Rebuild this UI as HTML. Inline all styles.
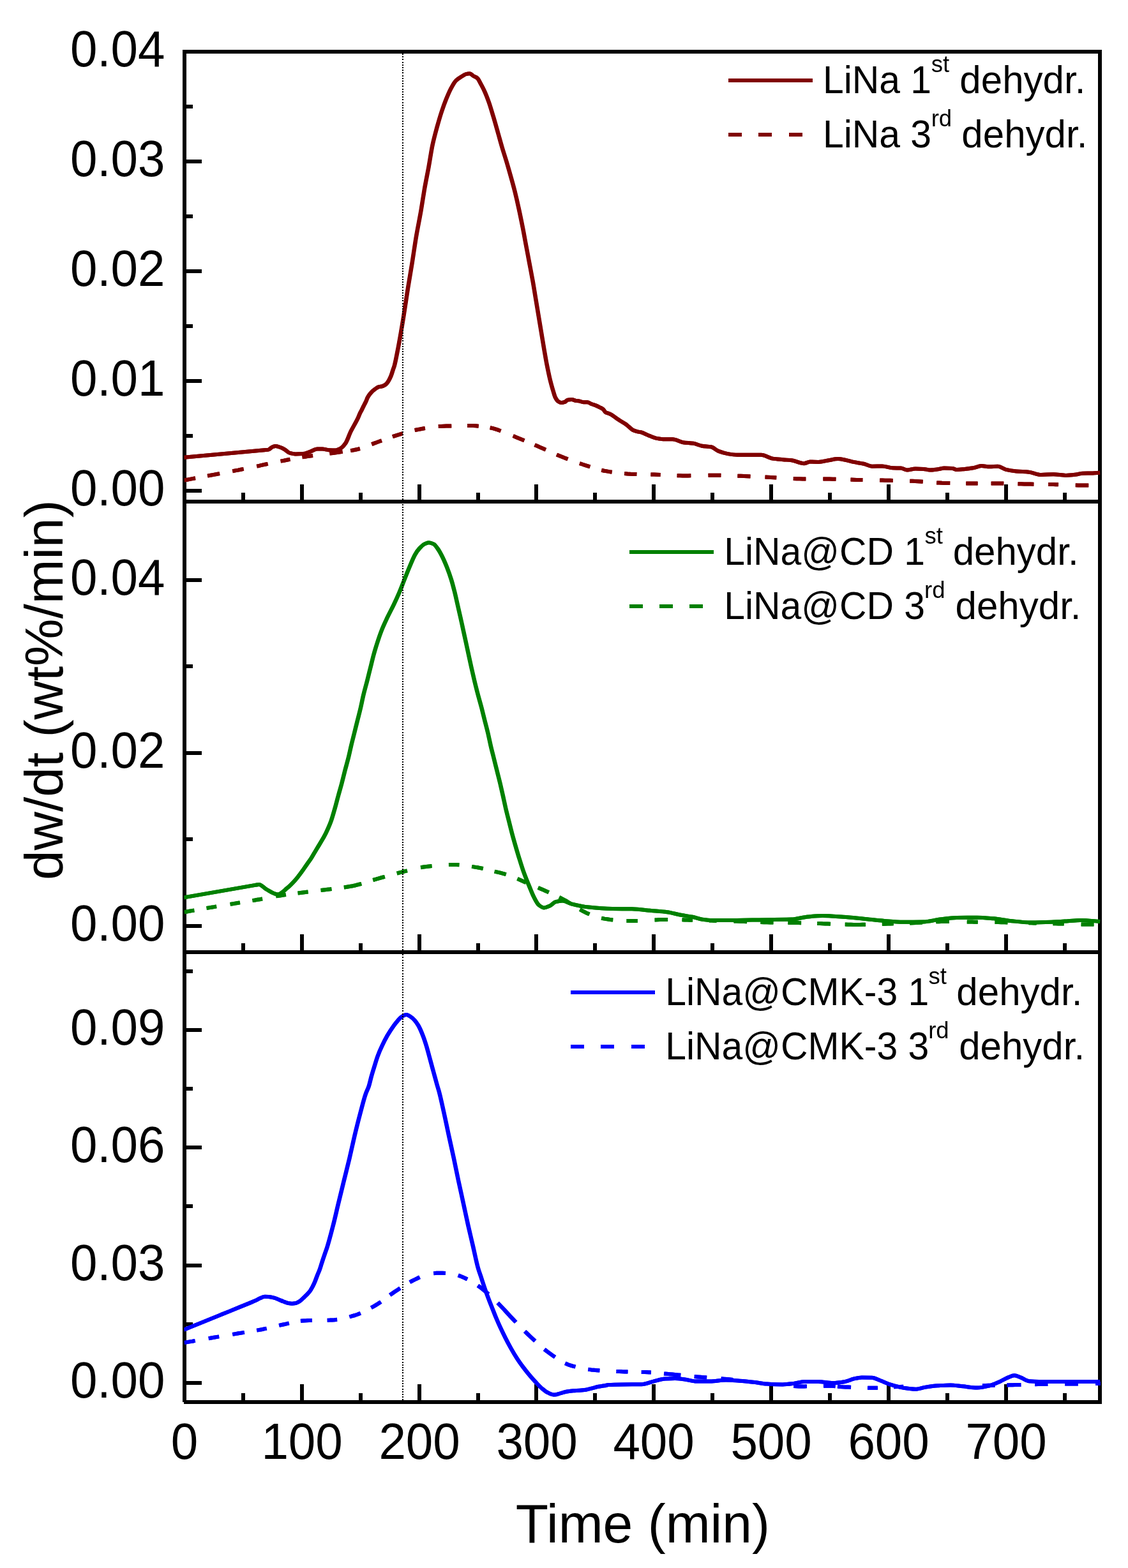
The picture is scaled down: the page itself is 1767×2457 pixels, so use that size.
<!DOCTYPE html>
<html lang="en">
<head>
<meta charset="utf-8">
<title>dw/dt vs Time</title>
<style>
html,body{margin:0;padding:0;background:#fff;}
body{width:1767px;height:2457px;overflow:hidden;}
svg{display:block;}
text{font-family:"Liberation Sans",Arial,Helvetica,sans-serif;fill:#000;}
.tick{font-size:77px;}
.title{font-size:84px;}
.leg{font-size:59px;}
.sup{font-size:36px;}
.crv{fill:none;stroke-width:6.0;stroke-linejoin:round;stroke-linecap:butt;}
</style>
</head>
<body>
<svg xmlns="http://www.w3.org/2000/svg" width="1767" height="2457" viewBox="0 0 1767 2457">
<rect x="0" y="0" width="1767" height="2457" fill="#fff"/>
<defs><clipPath id="plotclip"><rect x="288.5" y="81" width="1435.5" height="2119"/></clipPath></defs>
<!-- axes frame and ticks -->
<g fill="#000" shape-rendering="crispEdges">
<rect x="286" y="78" width="6" height="2119"/>
<rect x="1720" y="78" width="6" height="2122"/>
<rect x="286" y="78" width="1440" height="6"/>
<rect x="286" y="783" width="1440" height="6"/>
<rect x="286" y="1489" width="1440" height="6"/>
<rect x="288" y="2194" width="1438" height="6"/>
<rect x="378" y="772" width="6" height="11"/>
<rect x="470" y="759" width="6" height="24"/>
<rect x="562" y="772" width="6" height="11"/>
<rect x="654" y="759" width="6" height="24"/>
<rect x="746" y="772" width="6" height="11"/>
<rect x="837" y="759" width="6" height="24"/>
<rect x="929" y="772" width="6" height="11"/>
<rect x="1021" y="759" width="6" height="24"/>
<rect x="1113" y="772" width="6" height="11"/>
<rect x="1205" y="759" width="6" height="24"/>
<rect x="1297" y="772" width="6" height="11"/>
<rect x="1389" y="759" width="6" height="24"/>
<rect x="1481" y="772" width="6" height="11"/>
<rect x="1573" y="759" width="6" height="24"/>
<rect x="1665" y="772" width="6" height="11"/>
<rect x="378" y="1478" width="6" height="11"/>
<rect x="470" y="1464" width="6" height="25"/>
<rect x="562" y="1478" width="6" height="11"/>
<rect x="654" y="1464" width="6" height="25"/>
<rect x="746" y="1478" width="6" height="11"/>
<rect x="837" y="1464" width="6" height="25"/>
<rect x="929" y="1478" width="6" height="11"/>
<rect x="1021" y="1464" width="6" height="25"/>
<rect x="1113" y="1478" width="6" height="11"/>
<rect x="1205" y="1464" width="6" height="25"/>
<rect x="1297" y="1478" width="6" height="11"/>
<rect x="1389" y="1464" width="6" height="25"/>
<rect x="1481" y="1478" width="6" height="11"/>
<rect x="1573" y="1464" width="6" height="25"/>
<rect x="1665" y="1478" width="6" height="11"/>
<rect x="378" y="2183" width="6" height="11"/>
<rect x="470" y="2169" width="6" height="25"/>
<rect x="562" y="2183" width="6" height="11"/>
<rect x="654" y="2169" width="6" height="25"/>
<rect x="746" y="2183" width="6" height="11"/>
<rect x="837" y="2169" width="6" height="25"/>
<rect x="929" y="2183" width="6" height="11"/>
<rect x="1021" y="2169" width="6" height="25"/>
<rect x="1113" y="2183" width="6" height="11"/>
<rect x="1205" y="2169" width="6" height="25"/>
<rect x="1297" y="2183" width="6" height="11"/>
<rect x="1389" y="2169" width="6" height="25"/>
<rect x="1481" y="2183" width="6" height="11"/>
<rect x="1573" y="2169" width="6" height="25"/>
<rect x="1665" y="2183" width="6" height="11"/>
<rect x="292" y="766" width="24" height="6"/>
<rect x="292" y="680" width="10" height="6"/>
<rect x="292" y="594" width="24" height="6"/>
<rect x="292" y="508" width="10" height="6"/>
<rect x="292" y="422" width="24" height="6"/>
<rect x="292" y="336" width="10" height="6"/>
<rect x="292" y="250" width="24" height="6"/>
<rect x="292" y="164" width="10" height="6"/>
<rect x="292" y="1448" width="24" height="6"/>
<rect x="292" y="1312" width="10" height="6"/>
<rect x="292" y="1177" width="24" height="6"/>
<rect x="292" y="1041" width="10" height="6"/>
<rect x="292" y="906" width="24" height="6"/>
<rect x="292" y="2164" width="24" height="6"/>
<rect x="292" y="2072" width="10" height="6"/>
<rect x="292" y="1980" width="24" height="6"/>
<rect x="292" y="1887" width="10" height="6"/>
<rect x="292" y="1795" width="24" height="6"/>
<rect x="292" y="1703" width="10" height="6"/>
<rect x="292" y="1611" width="24" height="6"/>
<rect x="292" y="1519" width="10" height="6"/>
</g>
<!-- data curves -->
<g clip-path="url(#plotclip)">
<g stroke="#800000">
<path class="crv" transform="translate(-0.3,0)" d="M288.9,752.5L293.2,751.7L297.4,750.9L301.6,750.1L305.9,749.3M325.2,745.6L329.9,744.8L334.6,743.9L339.3,743.0L344.0,742.1M364.4,738.2L368.7,737.4L373.0,736.6L377.2,735.7L381.5,734.9M402.4,730.6L406.7,729.7L411.0,728.7L415.2,727.8L419.5,726.9M439.7,722.6L444.6,721.7L449.4,720.7L454.3,719.7M473.6,716.3L477.7,715.7L481.8,715.1L485.8,714.5L489.9,714.0M516.5,710.6L521.5,710.0L526.5,709.3L531.5,708.6L536.5,707.9M549.3,706.1L554.1,705.3L558.9,704.3L563.7,703.0M582.4,696.1L586.2,694.6L590.1,693.2L594.0,691.8L597.8,690.4M615.1,684.2L619.0,682.9L623.0,681.6L627.0,680.4L630.9,679.2M649.8,674.0L653.8,673.2L657.8,672.5L661.7,671.7L665.7,671.0M686.9,668.1L690.9,667.9L695.0,667.7L699.0,667.6L703.1,667.5L707.1,667.4M732.3,667.0L736.6,667.0L741.0,667.1L745.3,667.3L749.6,667.7M767.8,670.2L772.0,671.1L776.1,672.3L780.2,673.7L784.4,675.3M803.9,683.1L808.2,684.9L812.5,686.7L816.9,688.5L821.2,690.3M837.7,697.2L842.0,699.1L846.2,700.9L850.5,702.8L854.8,704.7M872.1,712.4L876.4,714.2L880.8,716.0L885.1,717.7L889.4,719.4M908.1,726.2L912.1,727.5L916.1,728.8L920.2,730.1L924.2,731.4M942.4,736.8L946.4,737.7L950.5,738.4L954.5,739.1L958.5,739.7M978.3,742.1L983.0,742.5L987.8,742.8L992.6,742.9L997.3,743.1M1019.5,743.5L1024.5,743.6L1029.5,743.8L1034.5,744.0M1060.7,745.2L1065.0,745.3L1069.3,745.4L1073.6,745.4L1077.9,745.4L1082.2,745.3M1109.6,744.8L1114.5,744.7L1119.4,744.7L1124.4,744.7L1129.3,744.8M1155.5,745.7L1160.5,745.8L1165.5,746.0L1170.4,746.2L1175.4,746.4M1198.6,747.6L1203.0,747.8L1207.4,748.0L1211.8,748.2L1216.2,748.5M1242.9,750.0L1247.8,750.2L1252.6,750.3L1257.4,750.4L1262.3,750.4M1289.5,750.6L1294.5,750.6L1299.5,750.6L1304.4,750.7L1309.4,750.8M1332.6,751.6L1337.3,751.7L1341.9,751.9L1346.6,752.0L1351.3,752.1M1378.3,752.5L1382.4,752.6L1386.4,752.7L1390.5,752.7L1394.5,752.8L1398.6,752.9M1425.4,753.7L1429.4,753.8L1433.5,754.0L1437.5,754.2L1441.6,754.4L1445.6,754.7M1467.3,756.4L1471.5,756.6L1475.6,756.8L1479.8,756.9L1483.9,757.0L1488.1,757.1M1513.4,757.5L1517.9,757.5L1522.4,757.5L1527.0,757.5L1531.5,757.5M1552.7,757.5L1557.6,757.5L1562.5,757.5L1567.3,757.5L1572.2,757.6M1594.6,758.2L1599.5,758.3L1604.5,758.4L1609.4,758.5L1614.4,758.6L1619.3,758.7M1642.4,759.0L1646.2,759.0L1650.1,759.1L1653.9,759.2L1657.8,759.3M1684.9,760.3L1688.9,760.4L1693.0,760.4L1697.0,760.4L1701.1,760.5L1705.1,760.5"/>
<path class="crv" transform="translate(-0.3,0)" d="M288.2,716.7C330.1,712.9 372.1,709.1 414.0,705.2C416.1,705.0 418.2,704.9 420.3,704.6C422.5,704.2 424.7,701.1 426.9,700.3C428.5,699.7 430.2,699.0 431.8,699.0C434.5,699.0 437.2,700.3 439.9,701.3C442.1,702.1 444.2,703.3 446.4,704.6C448.6,705.9 450.8,708.8 453.0,709.5C456.3,710.5 459.5,711.4 462.8,711.4C466.6,711.4 470.4,711.3 474.2,711.1C478.0,710.9 481.8,709.0 485.6,707.8C489.4,706.6 493.2,703.6 497.0,703.6C499.7,703.6 502.5,703.6 505.2,703.6C508.5,703.6 511.7,705.0 515.0,705.2C518.3,705.4 521.5,705.6 524.8,705.6C527.5,705.6 530.2,704.3 532.9,703.0C535.6,701.7 538.4,698.6 541.1,694.8C543.9,691.0 546.6,682.0 549.4,676.3C553.3,668.4 557.1,662.9 561.0,654.5C561.8,652.8 562.6,650.4 563.4,648.7C564.4,646.5 565.4,644.8 566.4,642.8C567.2,641.2 568.0,639.5 568.8,637.9C569.5,636.6 570.1,635.2 570.8,633.9C571.6,632.2 572.5,630.8 573.3,629.0C574.1,627.3 574.9,624.8 575.7,623.2C576.6,621.4 577.5,620.0 578.4,618.7C579.6,617.0 580.9,615.5 582.1,614.3C583.4,613.0 584.7,611.9 586.0,610.9C587.3,609.9 588.6,608.8 589.9,608.0C591.2,607.2 592.5,606.3 593.8,606.0C595.1,605.7 596.5,605.8 597.8,605.5C599.1,605.3 600.4,604.7 601.7,604.0C603.0,603.3 604.3,602.4 605.6,601.1C606.7,600.0 607.9,598.1 609.0,596.2C610.1,594.4 611.1,592.3 612.2,589.8C613.3,587.2 614.4,583.3 615.5,580.0C616.3,577.5 617.2,575.4 618.0,572.4C619.6,566.6 621.2,557.7 622.8,549.6C624.4,541.5 626.0,532.6 627.6,523.5C629.2,514.2 630.9,504.3 632.5,494.1C634.7,480.6 636.8,465.2 639.0,451.6C641.2,438.0 643.3,426.0 645.5,412.5C647.7,398.8 649.9,383.0 652.1,370.0C654.6,355.5 657.0,344.3 659.5,330.0C661.3,319.4 663.2,306.5 665.0,296.0C667.2,283.6 669.3,273.6 671.5,261.7C673.5,250.7 675.5,236.7 677.5,227.3C679.8,216.5 682.1,208.3 684.4,199.9C687.0,190.6 689.5,181.8 692.1,174.1C694.4,167.2 696.7,160.9 699.0,155.2C701.3,149.6 703.5,144.1 705.8,139.8C708.7,134.4 711.5,128.9 714.4,126.1C717.3,123.3 720.1,121.8 723.0,120.0C725.3,118.6 727.6,116.6 729.9,116.1C731.9,115.6 733.9,115.2 735.9,115.2C737.9,115.2 739.9,118.0 741.9,119.2C743.9,120.4 745.9,120.9 747.9,122.6C749.6,124.1 751.3,128.1 753.0,131.2C755.0,134.9 757.1,138.7 759.1,143.2C761.4,148.2 763.6,154.0 765.9,160.4C768.2,166.9 770.5,175.0 772.8,182.7C775.1,190.4 777.4,198.6 779.7,206.7C782.0,214.7 784.2,223.1 786.5,230.8C788.8,238.6 791.1,245.4 793.4,253.1C795.7,260.8 798.0,268.9 800.3,277.1C802.4,284.5 804.4,291.7 806.5,300.0C808.5,308.1 810.6,317.2 812.6,326.5C814.7,335.9 816.7,345.9 818.8,356.4C820.6,365.4 822.3,375.3 824.1,384.7C825.9,394.1 827.6,403.5 829.4,412.9C831.2,422.3 832.9,431.1 834.7,441.1C836.2,449.4 837.6,458.7 839.1,467.5C840.6,476.3 842.0,485.2 843.5,494.0C845.0,502.8 846.4,511.7 847.9,520.5C849.4,529.3 850.8,538.4 852.3,546.9C853.8,555.4 855.2,564.1 856.7,571.6C858.5,580.6 860.2,589.1 862.0,596.3C863.5,602.2 864.9,607.4 866.4,612.2C867.6,616.0 868.7,620.6 869.9,622.8C871.4,625.7 872.9,628.0 874.4,628.9C876.1,630.0 877.9,631.0 879.6,631.0C881.4,631.0 883.1,630.4 884.9,629.8C886.4,629.3 887.8,626.9 889.3,626.6C891.4,626.2 893.4,625.9 895.5,625.9C897.6,625.9 899.6,627.3 901.7,627.7C903.5,628.0 905.2,628.1 907.0,628.4C909.3,628.8 911.7,630.2 914.0,630.2C916.1,630.2 918.1,630.2 920.2,630.2C922.3,630.2 924.3,632.2 926.4,633.0C928.7,633.9 931.1,634.5 933.4,635.4C935.5,636.2 937.5,637.2 939.6,638.3C941.4,639.2 943.1,639.9 944.9,641.3C946.1,642.3 947.2,645.3 948.4,646.0C950.5,647.3 952.5,647.4 954.6,648.3C957.0,649.4 959.3,650.8 961.7,652.4C963.4,653.5 965.2,655.1 966.9,656.3C968.7,657.5 970.4,658.7 972.2,659.8C974.6,661.3 976.9,662.4 979.3,664.0C981.1,665.2 982.8,666.9 984.6,668.3C986.9,670.2 989.3,672.9 991.6,674.0C994.0,675.1 996.3,675.7 998.7,676.3C1000.7,676.8 1002.8,677.0 1004.8,677.5C1008.1,678.4 1011.3,680.4 1014.6,681.7C1018.9,683.4 1023.3,685.8 1027.6,686.6C1032.0,687.4 1036.3,688.3 1040.7,688.3C1045.0,688.3 1049.4,688.3 1053.7,688.3C1059.1,688.3 1064.6,692.4 1070.0,693.2C1075.5,694.0 1080.9,694.0 1086.4,694.8C1090.7,695.5 1095.1,698.0 1099.4,698.7C1104.3,699.5 1109.2,699.4 1114.1,700.3C1117.9,701.0 1121.7,705.4 1125.5,706.9C1130.4,708.8 1135.3,710.3 1140.2,711.1C1145.1,711.9 1150.0,712.7 1154.9,712.7C1160.3,712.7 1165.8,712.7 1171.2,712.7C1178.3,712.7 1185.3,712.7 1192.4,712.7C1198.4,712.7 1204.4,717.7 1210.4,718.6C1215.8,719.4 1221.3,719.7 1226.7,720.2C1231.1,720.6 1235.6,720.8 1240.0,721.3C1246.5,722.1 1252.9,726.2 1259.4,726.2C1262.6,726.2 1265.9,723.6 1269.1,723.6C1273.4,723.6 1277.7,723.9 1282.0,723.9C1287.4,723.9 1292.8,722.1 1298.2,721.3C1303.0,720.5 1307.9,719.1 1312.7,719.1C1316.5,719.1 1320.2,720.0 1324.0,720.7C1328.3,721.5 1332.6,723.0 1336.9,723.9C1342.3,725.0 1347.7,725.6 1353.1,726.8C1357.4,727.8 1361.7,730.7 1366.0,730.7C1371.4,730.7 1376.8,730.4 1382.2,730.4C1387.6,730.4 1392.9,733.1 1398.3,733.3C1402.6,733.5 1407.0,733.4 1411.3,733.6C1414.5,733.7 1417.7,736.5 1420.9,736.5C1425.2,736.5 1429.6,734.6 1433.9,734.6C1438.2,734.6 1442.5,734.7 1446.8,734.9C1450.0,735.0 1453.3,736.5 1456.5,736.5C1460.8,736.5 1465.1,735.7 1469.4,735.2C1472.6,734.8 1475.9,733.6 1479.1,733.6C1483.4,733.6 1487.7,733.7 1492.0,733.9C1494.2,734.0 1496.3,735.9 1498.5,735.9C1502.8,735.9 1507.1,735.3 1511.4,734.9C1515.7,734.5 1520.0,734.0 1524.3,733.3C1528.6,732.6 1533.0,730.1 1537.3,730.1C1541.6,730.1 1545.9,731.3 1550.2,731.3C1554.5,731.3 1558.8,730.7 1563.1,730.7C1567.4,730.7 1571.7,734.9 1576.0,735.9C1581.4,737.2 1586.8,738.0 1592.2,738.5C1598.7,739.1 1605.1,739.1 1611.6,739.7C1618.1,740.3 1624.5,743.9 1631.0,743.9C1637.4,743.9 1643.9,743.3 1650.3,743.3C1656.8,743.3 1663.2,744.9 1669.7,744.9C1675.1,744.9 1680.5,744.2 1685.9,743.6C1689.1,743.2 1692.4,741.8 1695.6,741.7C1701.0,741.5 1706.3,741.6 1711.7,741.4C1715.5,741.3 1719.2,740.9 1723.0,740.7"/>
<path class="crv" transform="translate(0.3,0)" d="M288.9,752.5L293.2,751.7L297.4,750.9L301.6,750.1L305.9,749.3M325.2,745.6L329.9,744.8L334.6,743.9L339.3,743.0L344.0,742.1M364.4,738.2L368.7,737.4L373.0,736.6L377.2,735.7L381.5,734.9M402.4,730.6L406.7,729.7L411.0,728.7L415.2,727.8L419.5,726.9M439.7,722.6L444.6,721.7L449.4,720.7L454.3,719.7M473.6,716.3L477.7,715.7L481.8,715.1L485.8,714.5L489.9,714.0M516.5,710.6L521.5,710.0L526.5,709.3L531.5,708.6L536.5,707.9M549.3,706.1L554.1,705.3L558.9,704.3L563.7,703.0M582.4,696.1L586.2,694.6L590.1,693.2L594.0,691.8L597.8,690.4M615.1,684.2L619.0,682.9L623.0,681.6L627.0,680.4L630.9,679.2M649.8,674.0L653.8,673.2L657.8,672.5L661.7,671.7L665.7,671.0M686.9,668.1L690.9,667.9L695.0,667.7L699.0,667.6L703.1,667.5L707.1,667.4M732.3,667.0L736.6,667.0L741.0,667.1L745.3,667.3L749.6,667.7M767.8,670.2L772.0,671.1L776.1,672.3L780.2,673.7L784.4,675.3M803.9,683.1L808.2,684.9L812.5,686.7L816.9,688.5L821.2,690.3M837.7,697.2L842.0,699.1L846.2,700.9L850.5,702.8L854.8,704.7M872.1,712.4L876.4,714.2L880.8,716.0L885.1,717.7L889.4,719.4M908.1,726.2L912.1,727.5L916.1,728.8L920.2,730.1L924.2,731.4M942.4,736.8L946.4,737.7L950.5,738.4L954.5,739.1L958.5,739.7M978.3,742.1L983.0,742.5L987.8,742.8L992.6,742.9L997.3,743.1M1019.5,743.5L1024.5,743.6L1029.5,743.8L1034.5,744.0M1060.7,745.2L1065.0,745.3L1069.3,745.4L1073.6,745.4L1077.9,745.4L1082.2,745.3M1109.6,744.8L1114.5,744.7L1119.4,744.7L1124.4,744.7L1129.3,744.8M1155.5,745.7L1160.5,745.8L1165.5,746.0L1170.4,746.2L1175.4,746.4M1198.6,747.6L1203.0,747.8L1207.4,748.0L1211.8,748.2L1216.2,748.5M1242.9,750.0L1247.8,750.2L1252.6,750.3L1257.4,750.4L1262.3,750.4M1289.5,750.6L1294.5,750.6L1299.5,750.6L1304.4,750.7L1309.4,750.8M1332.6,751.6L1337.3,751.7L1341.9,751.9L1346.6,752.0L1351.3,752.1M1378.3,752.5L1382.4,752.6L1386.4,752.7L1390.5,752.7L1394.5,752.8L1398.6,752.9M1425.4,753.7L1429.4,753.8L1433.5,754.0L1437.5,754.2L1441.6,754.4L1445.6,754.7M1467.3,756.4L1471.5,756.6L1475.6,756.8L1479.8,756.9L1483.9,757.0L1488.1,757.1M1513.4,757.5L1517.9,757.5L1522.4,757.5L1527.0,757.5L1531.5,757.5M1552.7,757.5L1557.6,757.5L1562.5,757.5L1567.3,757.5L1572.2,757.6M1594.6,758.2L1599.5,758.3L1604.5,758.4L1609.4,758.5L1614.4,758.6L1619.3,758.7M1642.4,759.0L1646.2,759.0L1650.1,759.1L1653.9,759.2L1657.8,759.3M1684.9,760.3L1688.9,760.4L1693.0,760.4L1697.0,760.4L1701.1,760.5L1705.1,760.5"/>
<path class="crv" transform="translate(0.3,0)" d="M288.2,716.7C330.1,712.9 372.1,709.1 414.0,705.2C416.1,705.0 418.2,704.9 420.3,704.6C422.5,704.2 424.7,701.1 426.9,700.3C428.5,699.7 430.2,699.0 431.8,699.0C434.5,699.0 437.2,700.3 439.9,701.3C442.1,702.1 444.2,703.3 446.4,704.6C448.6,705.9 450.8,708.8 453.0,709.5C456.3,710.5 459.5,711.4 462.8,711.4C466.6,711.4 470.4,711.3 474.2,711.1C478.0,710.9 481.8,709.0 485.6,707.8C489.4,706.6 493.2,703.6 497.0,703.6C499.7,703.6 502.5,703.6 505.2,703.6C508.5,703.6 511.7,705.0 515.0,705.2C518.3,705.4 521.5,705.6 524.8,705.6C527.5,705.6 530.2,704.3 532.9,703.0C535.6,701.7 538.4,698.6 541.1,694.8C543.9,691.0 546.6,682.0 549.4,676.3C553.3,668.4 557.1,662.9 561.0,654.5C561.8,652.8 562.6,650.4 563.4,648.7C564.4,646.5 565.4,644.8 566.4,642.8C567.2,641.2 568.0,639.5 568.8,637.9C569.5,636.6 570.1,635.2 570.8,633.9C571.6,632.2 572.5,630.8 573.3,629.0C574.1,627.3 574.9,624.8 575.7,623.2C576.6,621.4 577.5,620.0 578.4,618.7C579.6,617.0 580.9,615.5 582.1,614.3C583.4,613.0 584.7,611.9 586.0,610.9C587.3,609.9 588.6,608.8 589.9,608.0C591.2,607.2 592.5,606.3 593.8,606.0C595.1,605.7 596.5,605.8 597.8,605.5C599.1,605.3 600.4,604.7 601.7,604.0C603.0,603.3 604.3,602.4 605.6,601.1C606.7,600.0 607.9,598.1 609.0,596.2C610.1,594.4 611.1,592.3 612.2,589.8C613.3,587.2 614.4,583.3 615.5,580.0C616.3,577.5 617.2,575.4 618.0,572.4C619.6,566.6 621.2,557.7 622.8,549.6C624.4,541.5 626.0,532.6 627.6,523.5C629.2,514.2 630.9,504.3 632.5,494.1C634.7,480.6 636.8,465.2 639.0,451.6C641.2,438.0 643.3,426.0 645.5,412.5C647.7,398.8 649.9,383.0 652.1,370.0C654.6,355.5 657.0,344.3 659.5,330.0C661.3,319.4 663.2,306.5 665.0,296.0C667.2,283.6 669.3,273.6 671.5,261.7C673.5,250.7 675.5,236.7 677.5,227.3C679.8,216.5 682.1,208.3 684.4,199.9C687.0,190.6 689.5,181.8 692.1,174.1C694.4,167.2 696.7,160.9 699.0,155.2C701.3,149.6 703.5,144.1 705.8,139.8C708.7,134.4 711.5,128.9 714.4,126.1C717.3,123.3 720.1,121.8 723.0,120.0C725.3,118.6 727.6,116.6 729.9,116.1C731.9,115.6 733.9,115.2 735.9,115.2C737.9,115.2 739.9,118.0 741.9,119.2C743.9,120.4 745.9,120.9 747.9,122.6C749.6,124.1 751.3,128.1 753.0,131.2C755.0,134.9 757.1,138.7 759.1,143.2C761.4,148.2 763.6,154.0 765.9,160.4C768.2,166.9 770.5,175.0 772.8,182.7C775.1,190.4 777.4,198.6 779.7,206.7C782.0,214.7 784.2,223.1 786.5,230.8C788.8,238.6 791.1,245.4 793.4,253.1C795.7,260.8 798.0,268.9 800.3,277.1C802.4,284.5 804.4,291.7 806.5,300.0C808.5,308.1 810.6,317.2 812.6,326.5C814.7,335.9 816.7,345.9 818.8,356.4C820.6,365.4 822.3,375.3 824.1,384.7C825.9,394.1 827.6,403.5 829.4,412.9C831.2,422.3 832.9,431.1 834.7,441.1C836.2,449.4 837.6,458.7 839.1,467.5C840.6,476.3 842.0,485.2 843.5,494.0C845.0,502.8 846.4,511.7 847.9,520.5C849.4,529.3 850.8,538.4 852.3,546.9C853.8,555.4 855.2,564.1 856.7,571.6C858.5,580.6 860.2,589.1 862.0,596.3C863.5,602.2 864.9,607.4 866.4,612.2C867.6,616.0 868.7,620.6 869.9,622.8C871.4,625.7 872.9,628.0 874.4,628.9C876.1,630.0 877.9,631.0 879.6,631.0C881.4,631.0 883.1,630.4 884.9,629.8C886.4,629.3 887.8,626.9 889.3,626.6C891.4,626.2 893.4,625.9 895.5,625.9C897.6,625.9 899.6,627.3 901.7,627.7C903.5,628.0 905.2,628.1 907.0,628.4C909.3,628.8 911.7,630.2 914.0,630.2C916.1,630.2 918.1,630.2 920.2,630.2C922.3,630.2 924.3,632.2 926.4,633.0C928.7,633.9 931.1,634.5 933.4,635.4C935.5,636.2 937.5,637.2 939.6,638.3C941.4,639.2 943.1,639.9 944.9,641.3C946.1,642.3 947.2,645.3 948.4,646.0C950.5,647.3 952.5,647.4 954.6,648.3C957.0,649.4 959.3,650.8 961.7,652.4C963.4,653.5 965.2,655.1 966.9,656.3C968.7,657.5 970.4,658.7 972.2,659.8C974.6,661.3 976.9,662.4 979.3,664.0C981.1,665.2 982.8,666.9 984.6,668.3C986.9,670.2 989.3,672.9 991.6,674.0C994.0,675.1 996.3,675.7 998.7,676.3C1000.7,676.8 1002.8,677.0 1004.8,677.5C1008.1,678.4 1011.3,680.4 1014.6,681.7C1018.9,683.4 1023.3,685.8 1027.6,686.6C1032.0,687.4 1036.3,688.3 1040.7,688.3C1045.0,688.3 1049.4,688.3 1053.7,688.3C1059.1,688.3 1064.6,692.4 1070.0,693.2C1075.5,694.0 1080.9,694.0 1086.4,694.8C1090.7,695.5 1095.1,698.0 1099.4,698.7C1104.3,699.5 1109.2,699.4 1114.1,700.3C1117.9,701.0 1121.7,705.4 1125.5,706.9C1130.4,708.8 1135.3,710.3 1140.2,711.1C1145.1,711.9 1150.0,712.7 1154.9,712.7C1160.3,712.7 1165.8,712.7 1171.2,712.7C1178.3,712.7 1185.3,712.7 1192.4,712.7C1198.4,712.7 1204.4,717.7 1210.4,718.6C1215.8,719.4 1221.3,719.7 1226.7,720.2C1231.1,720.6 1235.6,720.8 1240.0,721.3C1246.5,722.1 1252.9,726.2 1259.4,726.2C1262.6,726.2 1265.9,723.6 1269.1,723.6C1273.4,723.6 1277.7,723.9 1282.0,723.9C1287.4,723.9 1292.8,722.1 1298.2,721.3C1303.0,720.5 1307.9,719.1 1312.7,719.1C1316.5,719.1 1320.2,720.0 1324.0,720.7C1328.3,721.5 1332.6,723.0 1336.9,723.9C1342.3,725.0 1347.7,725.6 1353.1,726.8C1357.4,727.8 1361.7,730.7 1366.0,730.7C1371.4,730.7 1376.8,730.4 1382.2,730.4C1387.6,730.4 1392.9,733.1 1398.3,733.3C1402.6,733.5 1407.0,733.4 1411.3,733.6C1414.5,733.7 1417.7,736.5 1420.9,736.5C1425.2,736.5 1429.6,734.6 1433.9,734.6C1438.2,734.6 1442.5,734.7 1446.8,734.9C1450.0,735.0 1453.3,736.5 1456.5,736.5C1460.8,736.5 1465.1,735.7 1469.4,735.2C1472.6,734.8 1475.9,733.6 1479.1,733.6C1483.4,733.6 1487.7,733.7 1492.0,733.9C1494.2,734.0 1496.3,735.9 1498.5,735.9C1502.8,735.9 1507.1,735.3 1511.4,734.9C1515.7,734.5 1520.0,734.0 1524.3,733.3C1528.6,732.6 1533.0,730.1 1537.3,730.1C1541.6,730.1 1545.9,731.3 1550.2,731.3C1554.5,731.3 1558.8,730.7 1563.1,730.7C1567.4,730.7 1571.7,734.9 1576.0,735.9C1581.4,737.2 1586.8,738.0 1592.2,738.5C1598.7,739.1 1605.1,739.1 1611.6,739.7C1618.1,740.3 1624.5,743.9 1631.0,743.9C1637.4,743.9 1643.9,743.3 1650.3,743.3C1656.8,743.3 1663.2,744.9 1669.7,744.9C1675.1,744.9 1680.5,744.2 1685.9,743.6C1689.1,743.2 1692.4,741.8 1695.6,741.7C1701.0,741.5 1706.3,741.6 1711.7,741.4C1715.5,741.3 1719.2,740.9 1723.0,740.7"/>
</g>
<g stroke="#008000">
<path class="crv" transform="translate(-0.3,0)" d="M288.9,1429.2L292.7,1428.5L296.6,1427.8L300.4,1427.1L304.2,1426.5M323.7,1423.0L327.5,1422.4L331.4,1421.7L335.2,1421.1L339.0,1420.4M360.7,1416.9L364.5,1416.3L368.2,1415.6L372.0,1415.0L375.8,1414.4M395.6,1411.1L399.4,1410.5L403.2,1409.8L407.1,1409.2L410.9,1408.5M432.4,1404.4L436.2,1403.8L440.1,1403.2L443.9,1402.6L447.7,1402.0M466.7,1399.5L470.6,1399.0L474.6,1398.5L478.6,1398.0L482.5,1397.5M502.7,1395.1L506.9,1394.6L511.0,1394.1L515.2,1393.6L519.3,1393.0M539.0,1390.5L543.5,1389.8L548.0,1389.0L552.5,1388.2L557.1,1387.2L561.6,1386.0L566.1,1384.8M584.4,1379.0L589.0,1377.7L593.5,1376.3L598.1,1375.0L602.7,1373.8M621.9,1368.5L625.9,1367.4L629.9,1366.4L633.8,1365.4L637.8,1364.4M659.2,1359.2L663.5,1358.5L667.8,1358.0L672.1,1357.5L676.4,1357.1M703.2,1355.0L707.2,1354.9L711.2,1354.9L715.3,1355.0L719.3,1355.3M739.3,1357.9L743.6,1358.6L748.0,1359.3L752.3,1360.1L756.6,1361.0M774.8,1365.6L779.2,1366.6L783.7,1367.7L788.1,1368.8L792.6,1370.1M810.6,1377.1L815.1,1379.0L819.5,1381.0L824.0,1383.0M843.0,1391.0L847.1,1392.8L851.3,1394.6L855.5,1396.4L859.6,1398.3M876.1,1406.0L880.2,1408.1L884.4,1410.3L888.5,1412.7L892.7,1415.3M908.5,1425.2L913.4,1427.8L918.4,1430.4L923.3,1432.5M942.3,1438.7L946.8,1439.6L951.2,1440.3L955.6,1441.0L960.1,1441.5M981.6,1443.0L985.8,1443.0L990.1,1443.0L994.4,1443.0L998.6,1443.0M1025.7,1441.4L1029.7,1441.3L1033.8,1441.1L1037.8,1440.9L1041.9,1440.9L1045.9,1440.9M1068.6,1441.3L1072.7,1441.4L1076.8,1441.6L1080.8,1441.7L1084.9,1441.8M1110.9,1442.5L1114.8,1442.6L1118.6,1442.7L1122.5,1442.8M1149.6,1443.5L1153.7,1443.6L1157.7,1443.7L1161.8,1443.9L1165.8,1444.0L1169.9,1444.2M1191.5,1445.1L1196.5,1445.2L1201.5,1445.3L1206.4,1445.4L1211.4,1445.5M1234.5,1445.8L1238.6,1445.9L1242.7,1446.0L1246.7,1446.0L1250.8,1446.1L1254.9,1446.2M1280.4,1447.0L1284.5,1447.1L1288.6,1447.3L1292.6,1447.4L1296.7,1447.5L1300.8,1447.7M1323.9,1448.6L1328.5,1448.7L1333.0,1448.8L1337.6,1448.9L1342.1,1448.9L1346.7,1448.9L1351.2,1448.8L1355.8,1448.7M1382.0,1447.9L1386.4,1447.7L1390.8,1447.6L1395.2,1447.4L1399.6,1447.3M1425.3,1446.4L1430.2,1446.2L1435.0,1446.0L1439.8,1445.8L1444.7,1445.5M1466.4,1444.3L1470.5,1444.2L1474.5,1444.1L1478.6,1444.1L1482.6,1444.1L1486.7,1444.1M1514.9,1444.5L1519.1,1444.6L1523.2,1444.6L1527.4,1444.7L1531.6,1444.7M1558.6,1445.1L1563.5,1445.1L1568.4,1445.2L1573.4,1445.3L1578.3,1445.4M1611.6,1446.2L1615.6,1446.3L1619.6,1446.4L1623.6,1446.5M1649.6,1447.2L1653.8,1447.3L1658.1,1447.4L1662.4,1447.5L1666.6,1447.6M1693.7,1448.4L1698.6,1448.5L1703.6,1448.5L1708.5,1448.5L1713.4,1448.5"/>
<path class="crv" transform="translate(-0.3,0)" d="M288.2,1406.4C325.5,1399.9 362.7,1393.4 400.0,1386.9C401.9,1386.6 403.8,1385.9 405.7,1385.9C409.5,1385.9 413.3,1391.3 417.1,1393.4C423.1,1396.6 429.0,1401.5 435.0,1401.5C439.9,1401.5 444.8,1395.6 449.7,1391.7C454.1,1388.2 458.4,1383.6 462.8,1378.7C466.4,1374.6 470.0,1369.6 473.6,1364.7C475.9,1361.6 478.1,1358.1 480.4,1354.9C482.7,1351.6 485.0,1348.6 487.3,1345.1C489.3,1342.1 491.2,1338.5 493.2,1335.2C495.2,1331.9 497.1,1328.7 499.1,1325.4C501.1,1322.1 503.0,1319.0 505.0,1315.6C506.8,1312.5 508.5,1309.3 510.3,1305.8C511.8,1302.8 513.3,1299.5 514.8,1296.0C516.1,1293.0 517.4,1289.9 518.7,1286.2C520.7,1280.6 522.6,1273.5 524.6,1266.6C526.4,1260.4 528.1,1253.4 529.9,1247.0C531.7,1240.3 533.6,1234.2 535.4,1227.3C537.0,1221.1 538.7,1214.0 540.3,1207.7C542.1,1200.9 543.8,1195.2 545.6,1188.1C547.1,1182.1 548.6,1174.8 550.1,1168.5C551.7,1161.7 553.4,1155.4 555.0,1148.9C556.6,1142.4 558.3,1135.7 559.9,1129.2C561.5,1122.7 563.2,1116.6 564.8,1109.6C566.2,1103.5 567.7,1096.0 569.1,1090.0C571.2,1081.1 573.4,1073.8 575.5,1065.4C577.1,1059.0 578.8,1052.3 580.4,1045.8C582.0,1039.3 583.7,1032.1 585.3,1026.2C587.3,1019.0 589.2,1012.6 591.2,1006.6C593.5,999.5 595.8,992.8 598.1,987.0C601.0,979.6 604.0,973.5 606.9,967.3C610.2,960.4 613.4,954.6 616.7,947.7C619.7,941.5 622.6,935.1 625.6,928.1C628.2,922.0 630.8,915.0 633.4,908.5C636.0,901.9 638.7,895.1 641.3,888.9C644.2,882.0 647.2,874.3 650.1,869.2C652.4,865.2 654.7,861.9 657.0,859.4C659.6,856.6 662.2,853.9 664.8,852.6C667.1,851.5 669.4,850.2 671.7,850.2C674.3,850.2 676.9,851.3 679.5,852.6C681.5,853.6 683.4,856.7 685.4,859.4C687.4,862.1 689.3,865.5 691.3,869.2C694.2,874.7 697.2,881.5 700.1,888.9C702.4,894.7 704.7,901.1 707.0,908.5C708.8,914.2 710.5,921.0 712.3,928.1C713.8,934.1 715.3,941.2 716.8,947.7C718.3,954.2 719.8,960.6 721.3,967.3C722.7,973.7 724.2,980.5 725.6,987.0C727.0,993.5 728.5,1000.0 729.9,1006.6C731.3,1013.1 732.7,1019.7 734.1,1026.2C735.5,1032.8 737.0,1039.4 738.4,1045.8C739.9,1052.5 741.4,1059.1 742.9,1065.4C744.5,1072.2 746.2,1078.8 747.8,1085.1C750.0,1093.7 752.3,1101.0 754.5,1109.6C756.1,1115.9 757.8,1122.7 759.4,1129.2C761.1,1135.8 762.7,1141.8 764.4,1148.9C765.8,1155.0 767.3,1162.4 768.7,1168.5C770.3,1175.5 772.0,1181.6 773.6,1188.1C775.2,1194.6 776.9,1201.2 778.5,1207.7C780.1,1214.2 781.8,1220.5 783.4,1227.3C784.9,1233.6 786.4,1240.3 787.9,1247.0C789.3,1253.4 790.8,1260.5 792.2,1266.6C793.8,1273.6 795.5,1279.7 797.1,1286.2C798.7,1292.7 800.4,1299.6 802.0,1305.8C803.8,1312.7 805.7,1319.1 807.5,1325.4C809.5,1332.2 811.4,1338.8 813.4,1345.1C815.5,1351.9 817.6,1358.8 819.7,1364.7C822.9,1373.6 826.0,1381.3 829.2,1389.0C831.7,1395.0 834.1,1401.5 836.6,1406.2C839.0,1410.8 841.5,1416.0 843.9,1418.0C846.6,1420.2 849.3,1422.4 852.0,1422.4C855.1,1422.4 858.1,1420.7 861.2,1419.4C864.3,1418.1 867.3,1414.0 870.4,1413.2C874.0,1412.2 877.5,1411.4 881.1,1411.4C885.7,1411.4 890.3,1415.1 894.9,1416.3C904.1,1418.6 913.3,1420.6 922.5,1421.5C934.8,1422.8 947.0,1423.8 959.3,1424.0C969.5,1424.2 979.7,1424.1 989.9,1424.3C1000.1,1424.5 1010.4,1426.1 1020.6,1427.0C1028.8,1427.7 1036.9,1428.2 1045.1,1429.2C1052.3,1430.1 1059.4,1432.5 1066.6,1433.8C1072.7,1434.9 1078.9,1435.6 1085.0,1436.8C1090.1,1437.8 1095.2,1440.1 1100.3,1440.8C1105.4,1441.5 1110.5,1442.1 1115.6,1442.1C1122.8,1442.1 1129.9,1442.1 1137.1,1442.1C1154.5,1442.1 1171.8,1441.7 1189.2,1441.4C1206.1,1441.2 1223.1,1441.1 1240.0,1440.6C1248.6,1440.3 1257.2,1437.1 1265.8,1436.4C1273.4,1435.8 1280.9,1435.1 1288.5,1435.1C1299.3,1435.1 1310.0,1436.1 1320.8,1436.8C1331.6,1437.5 1342.3,1438.7 1353.1,1439.7C1363.9,1440.7 1374.6,1442.1 1385.4,1442.9C1395.1,1443.7 1404.8,1444.8 1414.5,1444.8C1425.3,1444.8 1436.0,1444.7 1446.8,1444.5C1455.4,1444.3 1464.0,1441.6 1472.6,1440.6C1481.2,1439.6 1489.9,1438.2 1498.5,1438.0C1509.3,1437.8 1520.0,1437.7 1530.8,1437.7C1539.4,1437.7 1548.0,1438.6 1556.6,1439.3C1565.2,1440.0 1573.9,1442.0 1582.5,1442.9C1593.3,1444.0 1604.0,1445.5 1614.8,1445.5C1625.6,1445.5 1636.3,1445.2 1647.1,1444.8C1655.7,1444.5 1664.4,1443.8 1673.0,1443.2C1679.4,1442.8 1685.9,1441.9 1692.3,1441.9C1702.5,1441.9 1712.8,1443.2 1723.0,1443.9"/>
<path class="crv" transform="translate(0.3,0)" d="M288.9,1429.2L292.7,1428.5L296.6,1427.8L300.4,1427.1L304.2,1426.5M323.7,1423.0L327.5,1422.4L331.4,1421.7L335.2,1421.1L339.0,1420.4M360.7,1416.9L364.5,1416.3L368.2,1415.6L372.0,1415.0L375.8,1414.4M395.6,1411.1L399.4,1410.5L403.2,1409.8L407.1,1409.2L410.9,1408.5M432.4,1404.4L436.2,1403.8L440.1,1403.2L443.9,1402.6L447.7,1402.0M466.7,1399.5L470.6,1399.0L474.6,1398.5L478.6,1398.0L482.5,1397.5M502.7,1395.1L506.9,1394.6L511.0,1394.1L515.2,1393.6L519.3,1393.0M539.0,1390.5L543.5,1389.8L548.0,1389.0L552.5,1388.2L557.1,1387.2L561.6,1386.0L566.1,1384.8M584.4,1379.0L589.0,1377.7L593.5,1376.3L598.1,1375.0L602.7,1373.8M621.9,1368.5L625.9,1367.4L629.9,1366.4L633.8,1365.4L637.8,1364.4M659.2,1359.2L663.5,1358.5L667.8,1358.0L672.1,1357.5L676.4,1357.1M703.2,1355.0L707.2,1354.9L711.2,1354.9L715.3,1355.0L719.3,1355.3M739.3,1357.9L743.6,1358.6L748.0,1359.3L752.3,1360.1L756.6,1361.0M774.8,1365.6L779.2,1366.6L783.7,1367.7L788.1,1368.8L792.6,1370.1M810.6,1377.1L815.1,1379.0L819.5,1381.0L824.0,1383.0M843.0,1391.0L847.1,1392.8L851.3,1394.6L855.5,1396.4L859.6,1398.3M876.1,1406.0L880.2,1408.1L884.4,1410.3L888.5,1412.7L892.7,1415.3M908.5,1425.2L913.4,1427.8L918.4,1430.4L923.3,1432.5M942.3,1438.7L946.8,1439.6L951.2,1440.3L955.6,1441.0L960.1,1441.5M981.6,1443.0L985.8,1443.0L990.1,1443.0L994.4,1443.0L998.6,1443.0M1025.7,1441.4L1029.7,1441.3L1033.8,1441.1L1037.8,1440.9L1041.9,1440.9L1045.9,1440.9M1068.6,1441.3L1072.7,1441.4L1076.8,1441.6L1080.8,1441.7L1084.9,1441.8M1110.9,1442.5L1114.8,1442.6L1118.6,1442.7L1122.5,1442.8M1149.6,1443.5L1153.7,1443.6L1157.7,1443.7L1161.8,1443.9L1165.8,1444.0L1169.9,1444.2M1191.5,1445.1L1196.5,1445.2L1201.5,1445.3L1206.4,1445.4L1211.4,1445.5M1234.5,1445.8L1238.6,1445.9L1242.7,1446.0L1246.7,1446.0L1250.8,1446.1L1254.9,1446.2M1280.4,1447.0L1284.5,1447.1L1288.6,1447.3L1292.6,1447.4L1296.7,1447.5L1300.8,1447.7M1323.9,1448.6L1328.5,1448.7L1333.0,1448.8L1337.6,1448.9L1342.1,1448.9L1346.7,1448.9L1351.2,1448.8L1355.8,1448.7M1382.0,1447.9L1386.4,1447.7L1390.8,1447.6L1395.2,1447.4L1399.6,1447.3M1425.3,1446.4L1430.2,1446.2L1435.0,1446.0L1439.8,1445.8L1444.7,1445.5M1466.4,1444.3L1470.5,1444.2L1474.5,1444.1L1478.6,1444.1L1482.6,1444.1L1486.7,1444.1M1514.9,1444.5L1519.1,1444.6L1523.2,1444.6L1527.4,1444.7L1531.6,1444.7M1558.6,1445.1L1563.5,1445.1L1568.4,1445.2L1573.4,1445.3L1578.3,1445.4M1611.6,1446.2L1615.6,1446.3L1619.6,1446.4L1623.6,1446.5M1649.6,1447.2L1653.8,1447.3L1658.1,1447.4L1662.4,1447.5L1666.6,1447.6M1693.7,1448.4L1698.6,1448.5L1703.6,1448.5L1708.5,1448.5L1713.4,1448.5"/>
<path class="crv" transform="translate(0.3,0)" d="M288.2,1406.4C325.5,1399.9 362.7,1393.4 400.0,1386.9C401.9,1386.6 403.8,1385.9 405.7,1385.9C409.5,1385.9 413.3,1391.3 417.1,1393.4C423.1,1396.6 429.0,1401.5 435.0,1401.5C439.9,1401.5 444.8,1395.6 449.7,1391.7C454.1,1388.2 458.4,1383.6 462.8,1378.7C466.4,1374.6 470.0,1369.6 473.6,1364.7C475.9,1361.6 478.1,1358.1 480.4,1354.9C482.7,1351.6 485.0,1348.6 487.3,1345.1C489.3,1342.1 491.2,1338.5 493.2,1335.2C495.2,1331.9 497.1,1328.7 499.1,1325.4C501.1,1322.1 503.0,1319.0 505.0,1315.6C506.8,1312.5 508.5,1309.3 510.3,1305.8C511.8,1302.8 513.3,1299.5 514.8,1296.0C516.1,1293.0 517.4,1289.9 518.7,1286.2C520.7,1280.6 522.6,1273.5 524.6,1266.6C526.4,1260.4 528.1,1253.4 529.9,1247.0C531.7,1240.3 533.6,1234.2 535.4,1227.3C537.0,1221.1 538.7,1214.0 540.3,1207.7C542.1,1200.9 543.8,1195.2 545.6,1188.1C547.1,1182.1 548.6,1174.8 550.1,1168.5C551.7,1161.7 553.4,1155.4 555.0,1148.9C556.6,1142.4 558.3,1135.7 559.9,1129.2C561.5,1122.7 563.2,1116.6 564.8,1109.6C566.2,1103.5 567.7,1096.0 569.1,1090.0C571.2,1081.1 573.4,1073.8 575.5,1065.4C577.1,1059.0 578.8,1052.3 580.4,1045.8C582.0,1039.3 583.7,1032.1 585.3,1026.2C587.3,1019.0 589.2,1012.6 591.2,1006.6C593.5,999.5 595.8,992.8 598.1,987.0C601.0,979.6 604.0,973.5 606.9,967.3C610.2,960.4 613.4,954.6 616.7,947.7C619.7,941.5 622.6,935.1 625.6,928.1C628.2,922.0 630.8,915.0 633.4,908.5C636.0,901.9 638.7,895.1 641.3,888.9C644.2,882.0 647.2,874.3 650.1,869.2C652.4,865.2 654.7,861.9 657.0,859.4C659.6,856.6 662.2,853.9 664.8,852.6C667.1,851.5 669.4,850.2 671.7,850.2C674.3,850.2 676.9,851.3 679.5,852.6C681.5,853.6 683.4,856.7 685.4,859.4C687.4,862.1 689.3,865.5 691.3,869.2C694.2,874.7 697.2,881.5 700.1,888.9C702.4,894.7 704.7,901.1 707.0,908.5C708.8,914.2 710.5,921.0 712.3,928.1C713.8,934.1 715.3,941.2 716.8,947.7C718.3,954.2 719.8,960.6 721.3,967.3C722.7,973.7 724.2,980.5 725.6,987.0C727.0,993.5 728.5,1000.0 729.9,1006.6C731.3,1013.1 732.7,1019.7 734.1,1026.2C735.5,1032.8 737.0,1039.4 738.4,1045.8C739.9,1052.5 741.4,1059.1 742.9,1065.4C744.5,1072.2 746.2,1078.8 747.8,1085.1C750.0,1093.7 752.3,1101.0 754.5,1109.6C756.1,1115.9 757.8,1122.7 759.4,1129.2C761.1,1135.8 762.7,1141.8 764.4,1148.9C765.8,1155.0 767.3,1162.4 768.7,1168.5C770.3,1175.5 772.0,1181.6 773.6,1188.1C775.2,1194.6 776.9,1201.2 778.5,1207.7C780.1,1214.2 781.8,1220.5 783.4,1227.3C784.9,1233.6 786.4,1240.3 787.9,1247.0C789.3,1253.4 790.8,1260.5 792.2,1266.6C793.8,1273.6 795.5,1279.7 797.1,1286.2C798.7,1292.7 800.4,1299.6 802.0,1305.8C803.8,1312.7 805.7,1319.1 807.5,1325.4C809.5,1332.2 811.4,1338.8 813.4,1345.1C815.5,1351.9 817.6,1358.8 819.7,1364.7C822.9,1373.6 826.0,1381.3 829.2,1389.0C831.7,1395.0 834.1,1401.5 836.6,1406.2C839.0,1410.8 841.5,1416.0 843.9,1418.0C846.6,1420.2 849.3,1422.4 852.0,1422.4C855.1,1422.4 858.1,1420.7 861.2,1419.4C864.3,1418.1 867.3,1414.0 870.4,1413.2C874.0,1412.2 877.5,1411.4 881.1,1411.4C885.7,1411.4 890.3,1415.1 894.9,1416.3C904.1,1418.6 913.3,1420.6 922.5,1421.5C934.8,1422.8 947.0,1423.8 959.3,1424.0C969.5,1424.2 979.7,1424.1 989.9,1424.3C1000.1,1424.5 1010.4,1426.1 1020.6,1427.0C1028.8,1427.7 1036.9,1428.2 1045.1,1429.2C1052.3,1430.1 1059.4,1432.5 1066.6,1433.8C1072.7,1434.9 1078.9,1435.6 1085.0,1436.8C1090.1,1437.8 1095.2,1440.1 1100.3,1440.8C1105.4,1441.5 1110.5,1442.1 1115.6,1442.1C1122.8,1442.1 1129.9,1442.1 1137.1,1442.1C1154.5,1442.1 1171.8,1441.7 1189.2,1441.4C1206.1,1441.2 1223.1,1441.1 1240.0,1440.6C1248.6,1440.3 1257.2,1437.1 1265.8,1436.4C1273.4,1435.8 1280.9,1435.1 1288.5,1435.1C1299.3,1435.1 1310.0,1436.1 1320.8,1436.8C1331.6,1437.5 1342.3,1438.7 1353.1,1439.7C1363.9,1440.7 1374.6,1442.1 1385.4,1442.9C1395.1,1443.7 1404.8,1444.8 1414.5,1444.8C1425.3,1444.8 1436.0,1444.7 1446.8,1444.5C1455.4,1444.3 1464.0,1441.6 1472.6,1440.6C1481.2,1439.6 1489.9,1438.2 1498.5,1438.0C1509.3,1437.8 1520.0,1437.7 1530.8,1437.7C1539.4,1437.7 1548.0,1438.6 1556.6,1439.3C1565.2,1440.0 1573.9,1442.0 1582.5,1442.9C1593.3,1444.0 1604.0,1445.5 1614.8,1445.5C1625.6,1445.5 1636.3,1445.2 1647.1,1444.8C1655.7,1444.5 1664.4,1443.8 1673.0,1443.2C1679.4,1442.8 1685.9,1441.9 1692.3,1441.9C1702.5,1441.9 1712.8,1443.2 1723.0,1443.9"/>
</g>
<g stroke="#0000ff">
<path class="crv" transform="translate(-0.3,0)" d="M288.9,2103.9L293.1,2103.1L297.2,2102.4L301.4,2101.7L305.5,2100.9M326.9,2097.2L330.9,2096.5L335.0,2095.8L339.0,2095.1L343.0,2094.4M364.4,2090.9L369.0,2090.1L373.6,2089.3L378.1,2088.6L382.7,2087.9M402.4,2084.6L406.2,2083.9L410.0,2083.2L413.7,2082.4L417.5,2081.6M437.3,2076.9L441.1,2076.0L444.9,2075.2L448.8,2074.4L452.6,2073.4M471.1,2069.8L475.5,2069.4L479.9,2069.3L484.3,2069.1L488.7,2069.0M512.8,2068.7L516.6,2068.6L520.4,2068.4L524.1,2068.2L527.9,2067.8M547.6,2063.5L551.9,2062.2L556.1,2061.0L560.4,2059.5L564.7,2057.7M581.5,2049.2L585.3,2047.1L589.0,2044.9L592.8,2042.5L596.6,2039.9M610.9,2029.3L614.9,2026.5L618.8,2023.8L622.8,2021.2L626.7,2018.6M642.0,2009.1L645.9,2007.0L649.7,2005.1L653.6,2003.2L657.4,2001.3M679.4,1995.2L684.0,1994.8L688.5,1994.7L693.1,1994.8L697.7,1995.0M717.9,1998.4L722.6,2000.3L727.3,2002.3L732.0,2004.5M748.6,2014.5L752.8,2017.5L756.9,2020.8L761.0,2024.3L765.2,2027.9M779.7,2041.7L784.4,2046.5L789.2,2051.5L793.9,2056.6L798.6,2061.8L803.4,2066.8L808.1,2071.8M822.2,2086.1L826.2,2090.0L830.2,2093.8L834.2,2097.6L838.2,2101.3M852.8,2114.4L857.0,2117.7L861.1,2120.7L865.2,2123.6L869.4,2126.5M885.4,2136.3L889.4,2138.1L893.4,2139.5L897.3,2140.6L901.3,2141.7M921.5,2145.8L926.0,2146.4L930.4,2146.8L934.9,2147.2L939.3,2147.5M965.6,2149.0L970.0,2149.1L974.5,2149.3L979.0,2149.4L983.4,2149.5M1004.9,2150.0L1009.8,2150.1L1014.8,2150.3L1019.7,2150.5M1040.3,2152.4L1044.6,2152.8L1048.9,2153.2L1053.2,2153.6L1057.6,2154.0L1061.9,2154.4L1066.2,2154.8M1087.8,2157.0L1092.6,2157.4L1097.4,2157.8L1102.2,2158.2L1107.0,2158.6M1129.7,2160.3L1134.3,2160.7L1139.0,2161.1L1143.7,2161.5L1148.3,2161.9M1243.4,2172.1L1247.5,2172.3L1251.5,2172.4L1255.6,2172.4L1259.6,2172.4L1263.7,2172.3M1290.2,2171.8L1294.8,2171.7L1299.3,2171.7L1303.9,2171.8L1308.5,2172.2M1312.2,2172.5L1316.3,2172.9L1320.4,2173.2L1324.6,2173.4L1328.7,2173.6L1332.8,2173.8M1359.2,2174.7L1363.1,2174.8L1367.0,2174.8L1370.9,2174.8L1374.8,2174.7M1400.2,2173.3L1405.1,2173.1L1410.1,2172.9L1415.0,2172.8M1539.2,2170.9L1544.0,2170.9L1548.8,2170.8L1553.7,2170.7L1558.5,2170.7M1577.4,2170.4L1581.8,2170.3L1586.2,2170.2L1590.5,2170.1L1594.9,2170.0L1599.3,2169.9M1621.3,2169.2L1626.3,2169.1L1631.3,2169.0L1636.3,2168.9L1641.3,2168.9M1668.3,2168.6L1672.4,2168.6L1676.5,2168.5L1680.5,2168.5L1684.6,2168.4L1688.7,2168.4M1716.3,2168.1L1720.0,2168.0L1723.7,2168.0"/>
<path class="crv" transform="translate(-0.3,0)" d="M288.2,2083.8C296.3,2080.4 304.5,2077.0 312.6,2073.7C323.5,2069.2 334.4,2064.8 345.3,2060.4C356.2,2056.0 367.0,2051.6 377.9,2047.1C385.3,2044.1 392.6,2041.4 400.0,2038.0C402.5,2036.9 404.9,2035.3 407.4,2034.3C409.8,2033.3 412.3,2031.7 414.7,2031.7C416.7,2031.7 418.6,2031.8 420.6,2032.0C423.5,2032.2 426.5,2032.9 429.4,2033.6C431.9,2034.2 434.3,2035.5 436.8,2036.5C439.3,2037.5 441.7,2038.6 444.2,2039.5C446.6,2040.4 449.1,2041.5 451.5,2042.0C453.5,2042.4 455.4,2042.8 457.4,2042.8C459.4,2042.8 461.3,2042.4 463.3,2042.0C465.3,2041.6 467.2,2040.3 469.2,2039.1C471.2,2037.9 473.1,2035.8 475.1,2034.0C477.0,2032.2 479.0,2030.4 480.9,2028.4C482.4,2026.8 483.9,2025.3 485.4,2023.3C486.9,2021.3 488.3,2018.7 489.8,2015.9C491.0,2013.5 492.3,2010.8 493.5,2007.8C494.7,2004.9 495.9,2001.4 497.1,1998.3C498.3,1995.2 499.6,1992.6 500.8,1989.2C501.8,1986.4 502.8,1983.0 503.8,1979.9C504.8,1976.9 505.7,1973.9 506.7,1971.0C508.0,1967.2 509.2,1963.7 510.5,1960.0C511.2,1958.1 511.8,1956.3 512.5,1954.2C515.7,1944.2 518.8,1931.9 522.0,1919.5C524.8,1908.7 527.5,1896.2 530.3,1884.8C533.1,1873.1 536.0,1861.5 538.8,1850.0C541.7,1838.3 544.5,1827.3 547.4,1815.2C550.0,1804.1 552.7,1791.5 555.3,1780.5C558.2,1768.4 561.1,1756.7 564.0,1745.8C567.0,1734.6 569.9,1722.5 572.9,1714.0C574.5,1709.5 576.0,1707.2 577.6,1702.5C579.0,1698.3 580.4,1691.6 581.8,1686.6C583.4,1680.9 585.0,1675.8 586.6,1670.6C588.3,1665.1 590.0,1659.3 591.7,1654.7C594.0,1648.6 596.2,1643.6 598.5,1638.8C601.2,1633.0 604.0,1627.5 606.7,1622.8C610.1,1616.9 613.6,1611.6 617.0,1606.9C619.1,1604.0 621.3,1601.3 623.4,1598.9C625.3,1596.8 627.1,1594.4 629.0,1593.3C631.5,1591.8 634.1,1590.1 636.6,1590.1C638.8,1590.1 641.1,1591.9 643.3,1593.3C645.4,1594.6 647.6,1596.6 649.7,1598.9C651.6,1600.9 653.4,1603.7 655.3,1606.9C657.7,1611.0 660.1,1616.7 662.5,1622.8C664.3,1627.4 666.1,1632.9 667.9,1638.8C669.4,1643.6 670.8,1649.3 672.3,1654.7C673.7,1659.9 675.2,1665.3 676.6,1670.6C678.1,1676.0 679.5,1681.3 681.0,1686.6C682.5,1691.9 683.9,1697.4 685.4,1702.5C686.2,1705.4 687.1,1707.9 687.9,1711.0C690.6,1721.0 693.2,1733.8 695.9,1745.8C698.4,1756.9 700.8,1769.1 703.3,1780.5C705.8,1792.2 708.4,1803.3 710.9,1815.2C713.3,1826.5 715.7,1838.7 718.1,1850.0C720.6,1861.9 723.2,1873.1 725.7,1884.8C728.2,1896.3 730.7,1908.4 733.2,1919.5C735.9,1931.5 738.6,1942.6 741.3,1954.2C743.8,1965.1 746.4,1978.1 748.9,1987.0C750.4,1992.4 752.0,1996.2 753.5,2000.9C755.2,2006.2 757.0,2011.8 758.7,2016.9C760.6,2022.5 762.5,2027.7 764.4,2032.8C766.5,2038.4 768.6,2043.5 770.7,2048.8C772.8,2054.1 774.9,2059.7 777.0,2064.7C779.3,2070.3 781.7,2075.6 784.0,2080.6C786.6,2086.2 789.2,2091.5 791.8,2096.6C794.6,2102.2 797.5,2107.6 800.3,2112.6C803.5,2118.3 806.7,2123.7 809.9,2128.6C813.1,2133.6 816.4,2138.1 819.6,2142.4C822.9,2146.8 826.1,2150.8 829.4,2154.7C832.7,2158.6 836.0,2162.4 839.3,2165.9C842.6,2169.4 845.8,2173.0 849.1,2175.7C852.4,2178.4 855.6,2181.2 858.9,2182.6C862.2,2184.0 865.4,2185.6 868.7,2185.6C872.0,2185.6 875.2,2183.9 878.5,2183.1C881.8,2182.3 885.0,2181.1 888.3,2180.5C891.6,2179.9 894.8,2179.4 898.1,2179.2C901.4,2179.0 904.6,2178.9 907.9,2178.7C911.2,2178.5 914.5,2178.2 917.8,2177.7C921.1,2177.2 924.3,2176.1 927.6,2175.3C930.9,2174.5 934.1,2173.4 937.4,2172.8C940.7,2172.2 943.9,2171.9 947.2,2171.3C949.2,2171.0 951.1,2170.2 953.1,2170.1C960.3,2169.7 967.4,2169.6 974.6,2169.5C984.8,2169.3 995.0,2169.4 1005.2,2169.2C1011.3,2169.1 1017.5,2166.0 1023.6,2164.6C1029.7,2163.2 1035.9,2161.0 1042.0,2160.6C1047.1,2160.3 1052.3,2160.0 1057.4,2160.0C1062.5,2160.0 1067.6,2160.9 1072.7,2161.5C1078.8,2162.3 1085.0,2164.6 1091.1,2164.6C1098.2,2164.6 1105.4,2164.6 1112.5,2164.6C1120.7,2164.6 1128.9,2162.4 1137.1,2162.4C1144.2,2162.4 1151.4,2163.2 1158.5,2163.7C1166.7,2164.3 1174.8,2165.2 1183.0,2166.1C1189.1,2166.8 1195.3,2168.2 1201.4,2168.6C1209.6,2169.1 1217.8,2169.5 1226.0,2169.5C1232.1,2169.5 1238.3,2168.5 1244.4,2167.7C1249.4,2167.1 1254.4,2164.9 1259.4,2164.9C1266.9,2164.9 1274.5,2164.9 1282.0,2164.9C1289.5,2164.9 1297.1,2167.1 1304.6,2167.1C1311.1,2167.1 1317.5,2166.0 1324.0,2164.9C1328.3,2164.2 1332.6,2161.7 1336.9,2160.7C1341.2,2159.7 1345.6,2158.4 1349.9,2158.4C1355.3,2158.4 1360.6,2158.5 1366.0,2158.7C1370.3,2158.9 1374.6,2161.7 1378.9,2163.3C1384.3,2165.3 1389.7,2168.0 1395.1,2169.7C1401.6,2171.7 1408.0,2173.6 1414.5,2174.6C1421.0,2175.6 1427.4,2176.8 1433.9,2176.8C1439.3,2176.8 1444.6,2174.4 1450.0,2173.6C1456.5,2172.6 1462.9,2171.7 1469.4,2171.3C1475.9,2170.9 1482.3,2170.4 1488.8,2170.4C1495.3,2170.4 1501.7,2171.7 1508.2,2172.3C1515.7,2173.1 1523.3,2174.6 1530.8,2174.6C1537.3,2174.6 1543.7,2172.9 1550.2,2171.3C1555.6,2170.0 1560.9,2167.3 1566.3,2164.9C1570.6,2163.0 1575.0,2160.1 1579.3,2158.4C1582.5,2157.1 1585.8,2155.2 1589.0,2155.2C1592.2,2155.2 1595.5,2157.2 1598.7,2158.4C1603.0,2160.0 1607.3,2163.8 1611.6,2164.2C1617.0,2164.6 1622.3,2164.9 1627.7,2164.9C1649.2,2164.9 1670.8,2164.9 1692.3,2164.9C1702.5,2164.9 1712.8,2164.9 1723.0,2164.9"/>
<path class="crv" transform="translate(0.3,0)" d="M288.9,2103.9L293.1,2103.1L297.2,2102.4L301.4,2101.7L305.5,2100.9M326.9,2097.2L330.9,2096.5L335.0,2095.8L339.0,2095.1L343.0,2094.4M364.4,2090.9L369.0,2090.1L373.6,2089.3L378.1,2088.6L382.7,2087.9M402.4,2084.6L406.2,2083.9L410.0,2083.2L413.7,2082.4L417.5,2081.6M437.3,2076.9L441.1,2076.0L444.9,2075.2L448.8,2074.4L452.6,2073.4M471.1,2069.8L475.5,2069.4L479.9,2069.3L484.3,2069.1L488.7,2069.0M512.8,2068.7L516.6,2068.6L520.4,2068.4L524.1,2068.2L527.9,2067.8M547.6,2063.5L551.9,2062.2L556.1,2061.0L560.4,2059.5L564.7,2057.7M581.5,2049.2L585.3,2047.1L589.0,2044.9L592.8,2042.5L596.6,2039.9M610.9,2029.3L614.9,2026.5L618.8,2023.8L622.8,2021.2L626.7,2018.6M642.0,2009.1L645.9,2007.0L649.7,2005.1L653.6,2003.2L657.4,2001.3M679.4,1995.2L684.0,1994.8L688.5,1994.7L693.1,1994.8L697.7,1995.0M717.9,1998.4L722.6,2000.3L727.3,2002.3L732.0,2004.5M748.6,2014.5L752.8,2017.5L756.9,2020.8L761.0,2024.3L765.2,2027.9M779.7,2041.7L784.4,2046.5L789.2,2051.5L793.9,2056.6L798.6,2061.8L803.4,2066.8L808.1,2071.8M822.2,2086.1L826.2,2090.0L830.2,2093.8L834.2,2097.6L838.2,2101.3M852.8,2114.4L857.0,2117.7L861.1,2120.7L865.2,2123.6L869.4,2126.5M885.4,2136.3L889.4,2138.1L893.4,2139.5L897.3,2140.6L901.3,2141.7M921.5,2145.8L926.0,2146.4L930.4,2146.8L934.9,2147.2L939.3,2147.5M965.6,2149.0L970.0,2149.1L974.5,2149.3L979.0,2149.4L983.4,2149.5M1004.9,2150.0L1009.8,2150.1L1014.8,2150.3L1019.7,2150.5M1040.3,2152.4L1044.6,2152.8L1048.9,2153.2L1053.2,2153.6L1057.6,2154.0L1061.9,2154.4L1066.2,2154.8M1087.8,2157.0L1092.6,2157.4L1097.4,2157.8L1102.2,2158.2L1107.0,2158.6M1129.7,2160.3L1134.3,2160.7L1139.0,2161.1L1143.7,2161.5L1148.3,2161.9M1243.4,2172.1L1247.5,2172.3L1251.5,2172.4L1255.6,2172.4L1259.6,2172.4L1263.7,2172.3M1290.2,2171.8L1294.8,2171.7L1299.3,2171.7L1303.9,2171.8L1308.5,2172.2M1312.2,2172.5L1316.3,2172.9L1320.4,2173.2L1324.6,2173.4L1328.7,2173.6L1332.8,2173.8M1359.2,2174.7L1363.1,2174.8L1367.0,2174.8L1370.9,2174.8L1374.8,2174.7M1400.2,2173.3L1405.1,2173.1L1410.1,2172.9L1415.0,2172.8M1539.2,2170.9L1544.0,2170.9L1548.8,2170.8L1553.7,2170.7L1558.5,2170.7M1577.4,2170.4L1581.8,2170.3L1586.2,2170.2L1590.5,2170.1L1594.9,2170.0L1599.3,2169.9M1621.3,2169.2L1626.3,2169.1L1631.3,2169.0L1636.3,2168.9L1641.3,2168.9M1668.3,2168.6L1672.4,2168.6L1676.5,2168.5L1680.5,2168.5L1684.6,2168.4L1688.7,2168.4M1716.3,2168.1L1720.0,2168.0L1723.7,2168.0"/>
<path class="crv" transform="translate(0.3,0)" d="M288.2,2083.8C296.3,2080.4 304.5,2077.0 312.6,2073.7C323.5,2069.2 334.4,2064.8 345.3,2060.4C356.2,2056.0 367.0,2051.6 377.9,2047.1C385.3,2044.1 392.6,2041.4 400.0,2038.0C402.5,2036.9 404.9,2035.3 407.4,2034.3C409.8,2033.3 412.3,2031.7 414.7,2031.7C416.7,2031.7 418.6,2031.8 420.6,2032.0C423.5,2032.2 426.5,2032.9 429.4,2033.6C431.9,2034.2 434.3,2035.5 436.8,2036.5C439.3,2037.5 441.7,2038.6 444.2,2039.5C446.6,2040.4 449.1,2041.5 451.5,2042.0C453.5,2042.4 455.4,2042.8 457.4,2042.8C459.4,2042.8 461.3,2042.4 463.3,2042.0C465.3,2041.6 467.2,2040.3 469.2,2039.1C471.2,2037.9 473.1,2035.8 475.1,2034.0C477.0,2032.2 479.0,2030.4 480.9,2028.4C482.4,2026.8 483.9,2025.3 485.4,2023.3C486.9,2021.3 488.3,2018.7 489.8,2015.9C491.0,2013.5 492.3,2010.8 493.5,2007.8C494.7,2004.9 495.9,2001.4 497.1,1998.3C498.3,1995.2 499.6,1992.6 500.8,1989.2C501.8,1986.4 502.8,1983.0 503.8,1979.9C504.8,1976.9 505.7,1973.9 506.7,1971.0C508.0,1967.2 509.2,1963.7 510.5,1960.0C511.2,1958.1 511.8,1956.3 512.5,1954.2C515.7,1944.2 518.8,1931.9 522.0,1919.5C524.8,1908.7 527.5,1896.2 530.3,1884.8C533.1,1873.1 536.0,1861.5 538.8,1850.0C541.7,1838.3 544.5,1827.3 547.4,1815.2C550.0,1804.1 552.7,1791.5 555.3,1780.5C558.2,1768.4 561.1,1756.7 564.0,1745.8C567.0,1734.6 569.9,1722.5 572.9,1714.0C574.5,1709.5 576.0,1707.2 577.6,1702.5C579.0,1698.3 580.4,1691.6 581.8,1686.6C583.4,1680.9 585.0,1675.8 586.6,1670.6C588.3,1665.1 590.0,1659.3 591.7,1654.7C594.0,1648.6 596.2,1643.6 598.5,1638.8C601.2,1633.0 604.0,1627.5 606.7,1622.8C610.1,1616.9 613.6,1611.6 617.0,1606.9C619.1,1604.0 621.3,1601.3 623.4,1598.9C625.3,1596.8 627.1,1594.4 629.0,1593.3C631.5,1591.8 634.1,1590.1 636.6,1590.1C638.8,1590.1 641.1,1591.9 643.3,1593.3C645.4,1594.6 647.6,1596.6 649.7,1598.9C651.6,1600.9 653.4,1603.7 655.3,1606.9C657.7,1611.0 660.1,1616.7 662.5,1622.8C664.3,1627.4 666.1,1632.9 667.9,1638.8C669.4,1643.6 670.8,1649.3 672.3,1654.7C673.7,1659.9 675.2,1665.3 676.6,1670.6C678.1,1676.0 679.5,1681.3 681.0,1686.6C682.5,1691.9 683.9,1697.4 685.4,1702.5C686.2,1705.4 687.1,1707.9 687.9,1711.0C690.6,1721.0 693.2,1733.8 695.9,1745.8C698.4,1756.9 700.8,1769.1 703.3,1780.5C705.8,1792.2 708.4,1803.3 710.9,1815.2C713.3,1826.5 715.7,1838.7 718.1,1850.0C720.6,1861.9 723.2,1873.1 725.7,1884.8C728.2,1896.3 730.7,1908.4 733.2,1919.5C735.9,1931.5 738.6,1942.6 741.3,1954.2C743.8,1965.1 746.4,1978.1 748.9,1987.0C750.4,1992.4 752.0,1996.2 753.5,2000.9C755.2,2006.2 757.0,2011.8 758.7,2016.9C760.6,2022.5 762.5,2027.7 764.4,2032.8C766.5,2038.4 768.6,2043.5 770.7,2048.8C772.8,2054.1 774.9,2059.7 777.0,2064.7C779.3,2070.3 781.7,2075.6 784.0,2080.6C786.6,2086.2 789.2,2091.5 791.8,2096.6C794.6,2102.2 797.5,2107.6 800.3,2112.6C803.5,2118.3 806.7,2123.7 809.9,2128.6C813.1,2133.6 816.4,2138.1 819.6,2142.4C822.9,2146.8 826.1,2150.8 829.4,2154.7C832.7,2158.6 836.0,2162.4 839.3,2165.9C842.6,2169.4 845.8,2173.0 849.1,2175.7C852.4,2178.4 855.6,2181.2 858.9,2182.6C862.2,2184.0 865.4,2185.6 868.7,2185.6C872.0,2185.6 875.2,2183.9 878.5,2183.1C881.8,2182.3 885.0,2181.1 888.3,2180.5C891.6,2179.9 894.8,2179.4 898.1,2179.2C901.4,2179.0 904.6,2178.9 907.9,2178.7C911.2,2178.5 914.5,2178.2 917.8,2177.7C921.1,2177.2 924.3,2176.1 927.6,2175.3C930.9,2174.5 934.1,2173.4 937.4,2172.8C940.7,2172.2 943.9,2171.9 947.2,2171.3C949.2,2171.0 951.1,2170.2 953.1,2170.1C960.3,2169.7 967.4,2169.6 974.6,2169.5C984.8,2169.3 995.0,2169.4 1005.2,2169.2C1011.3,2169.1 1017.5,2166.0 1023.6,2164.6C1029.7,2163.2 1035.9,2161.0 1042.0,2160.6C1047.1,2160.3 1052.3,2160.0 1057.4,2160.0C1062.5,2160.0 1067.6,2160.9 1072.7,2161.5C1078.8,2162.3 1085.0,2164.6 1091.1,2164.6C1098.2,2164.6 1105.4,2164.6 1112.5,2164.6C1120.7,2164.6 1128.9,2162.4 1137.1,2162.4C1144.2,2162.4 1151.4,2163.2 1158.5,2163.7C1166.7,2164.3 1174.8,2165.2 1183.0,2166.1C1189.1,2166.8 1195.3,2168.2 1201.4,2168.6C1209.6,2169.1 1217.8,2169.5 1226.0,2169.5C1232.1,2169.5 1238.3,2168.5 1244.4,2167.7C1249.4,2167.1 1254.4,2164.9 1259.4,2164.9C1266.9,2164.9 1274.5,2164.9 1282.0,2164.9C1289.5,2164.9 1297.1,2167.1 1304.6,2167.1C1311.1,2167.1 1317.5,2166.0 1324.0,2164.9C1328.3,2164.2 1332.6,2161.7 1336.9,2160.7C1341.2,2159.7 1345.6,2158.4 1349.9,2158.4C1355.3,2158.4 1360.6,2158.5 1366.0,2158.7C1370.3,2158.9 1374.6,2161.7 1378.9,2163.3C1384.3,2165.3 1389.7,2168.0 1395.1,2169.7C1401.6,2171.7 1408.0,2173.6 1414.5,2174.6C1421.0,2175.6 1427.4,2176.8 1433.9,2176.8C1439.3,2176.8 1444.6,2174.4 1450.0,2173.6C1456.5,2172.6 1462.9,2171.7 1469.4,2171.3C1475.9,2170.9 1482.3,2170.4 1488.8,2170.4C1495.3,2170.4 1501.7,2171.7 1508.2,2172.3C1515.7,2173.1 1523.3,2174.6 1530.8,2174.6C1537.3,2174.6 1543.7,2172.9 1550.2,2171.3C1555.6,2170.0 1560.9,2167.3 1566.3,2164.9C1570.6,2163.0 1575.0,2160.1 1579.3,2158.4C1582.5,2157.1 1585.8,2155.2 1589.0,2155.2C1592.2,2155.2 1595.5,2157.2 1598.7,2158.4C1603.0,2160.0 1607.3,2163.8 1611.6,2164.2C1617.0,2164.6 1622.3,2164.9 1627.7,2164.9C1649.2,2164.9 1670.8,2164.9 1692.3,2164.9C1702.5,2164.9 1712.8,2164.9 1723.0,2164.9"/>
</g>
</g>
<!-- vertical guide line -->
<g shape-rendering="crispEdges"><line x1="631" y1="84" x2="631" y2="2194" stroke="#000" stroke-width="2" stroke-dasharray="2 2.2"/></g>
<!-- y tick labels -->
<text class="tick" transform="translate(109.90,792.00) scale(0.991,1.028)">0.00</text>
<text class="tick" transform="translate(109.90,620.00) scale(0.991,1.028)">0.01</text>
<text class="tick" transform="translate(109.90,448.00) scale(0.991,1.028)">0.02</text>
<text class="tick" transform="translate(109.90,276.00) scale(0.991,1.028)">0.03</text>
<text class="tick" transform="translate(109.90,104.00) scale(0.991,1.028)">0.04</text>
<text class="tick" transform="translate(109.90,1474.00) scale(0.991,1.028)">0.00</text>
<text class="tick" transform="translate(109.90,1203.00) scale(0.991,1.028)">0.02</text>
<text class="tick" transform="translate(109.90,932.00) scale(0.991,1.028)">0.04</text>
<text class="tick" transform="translate(109.90,2190.00) scale(0.991,1.028)">0.00</text>
<text class="tick" transform="translate(109.90,2006.00) scale(0.991,1.028)">0.03</text>
<text class="tick" transform="translate(109.90,1821.00) scale(0.991,1.028)">0.06</text>
<text class="tick" transform="translate(109.90,1637.00) scale(0.991,1.028)">0.09</text>
<!-- x tick labels -->
<text class="tick" text-anchor="middle" transform="translate(289.10,2286.10) scale(0.992,1.03)">0</text>
<text class="tick" text-anchor="middle" transform="translate(473.10,2286.10) scale(0.992,1.03)">100</text>
<text class="tick" text-anchor="middle" transform="translate(657.10,2286.10) scale(0.992,1.03)">200</text>
<text class="tick" text-anchor="middle" transform="translate(841.10,2286.10) scale(0.992,1.03)">300</text>
<text class="tick" text-anchor="middle" transform="translate(1024.10,2286.10) scale(0.992,1.03)">400</text>
<text class="tick" text-anchor="middle" transform="translate(1208.10,2286.10) scale(0.992,1.03)">500</text>
<text class="tick" text-anchor="middle" transform="translate(1392.10,2286.10) scale(0.992,1.03)">600</text>
<text class="tick" text-anchor="middle" transform="translate(1576.10,2286.10) scale(0.992,1.03)">700</text>
<!-- axis titles -->
<text class="title" transform="translate(807.80,2416.90) scale(1,1.018)">Time (min)</text>
<text class="title" transform="translate(97.70,1379.00) rotate(-90) scale(0.997,1)">dw/dt (wt%/min)</text>
<!-- legends -->
<g shape-rendering="crispEdges" fill="#800000">
<rect x="1141" y="123" width="132" height="6"/>
<rect x="1141" y="208" width="21" height="6"/>
<rect x="1188" y="208" width="21" height="6"/>
<rect x="1236" y="208" width="21" height="6"/>
</g>
<g>
<text class="leg" transform="translate(1288.93,145.95) scale(0.998,1.035)">LiNa 1</text>
<text class="sup" transform="translate(1458.78,112.95) scale(1.015,1.03)">st</text>
<text class="leg" transform="translate(1503.36,145.95) scale(1.018,1.035)">dehydr.</text>
</g>
<g>
<text class="leg" transform="translate(1288.93,230.95) scale(0.998,1.035)">LiNa 3</text>
<text class="sup" transform="translate(1458.66,197.95) scale(1.015,1.03)">rd</text>
<text class="leg" transform="translate(1506.36,230.95) scale(1.018,1.035)">dehydr.</text>
</g>
<g shape-rendering="crispEdges" fill="#008000">
<rect x="986" y="862" width="132" height="6"/>
<rect x="986" y="947" width="21" height="6"/>
<rect x="1033" y="947" width="21" height="6"/>
<rect x="1080" y="947" width="21" height="6"/>
</g>
<g>
<text class="leg" transform="translate(1134.16,884.95) scale(0.998,1.035)">LiNa@CD 1</text>
<text class="sup" transform="translate(1448.38,851.95) scale(1.015,1.03)">st</text>
<text class="leg" transform="translate(1492.65,884.95) scale(1.018,1.035)">dehydr.</text>
</g>
<g>
<text class="leg" transform="translate(1134.16,969.95) scale(0.998,1.035)">LiNa@CD 3</text>
<text class="sup" transform="translate(1448.06,936.95) scale(1.015,1.03)">rd</text>
<text class="leg" transform="translate(1496.55,969.95) scale(1.018,1.035)">dehydr.</text>
</g>
<g shape-rendering="crispEdges" fill="#0000ff">
<rect x="894" y="1552" width="132" height="6"/>
<rect x="894" y="1637" width="21" height="6"/>
<rect x="941" y="1637" width="21" height="6"/>
<rect x="989" y="1637" width="21" height="6"/>
</g>
<g>
<text class="leg" transform="translate(1042.16,1574.95) scale(0.998,1.035)">LiNa@CMK-3 1</text>
<text class="sup" transform="translate(1454.48,1541.95) scale(1.015,1.03)">st</text>
<text class="leg" transform="translate(1498.36,1574.95) scale(1.018,1.035)">dehydr.</text>
</g>
<g>
<text class="leg" transform="translate(1042.16,1659.95) scale(0.998,1.035)">LiNa@CMK-3 3</text>
<text class="sup" transform="translate(1454.16,1626.95) scale(1.015,1.03)">rd</text>
<text class="leg" transform="translate(1502.15,1659.95) scale(1.018,1.035)">dehydr.</text>
</g>
</svg>
</body>
</html>
